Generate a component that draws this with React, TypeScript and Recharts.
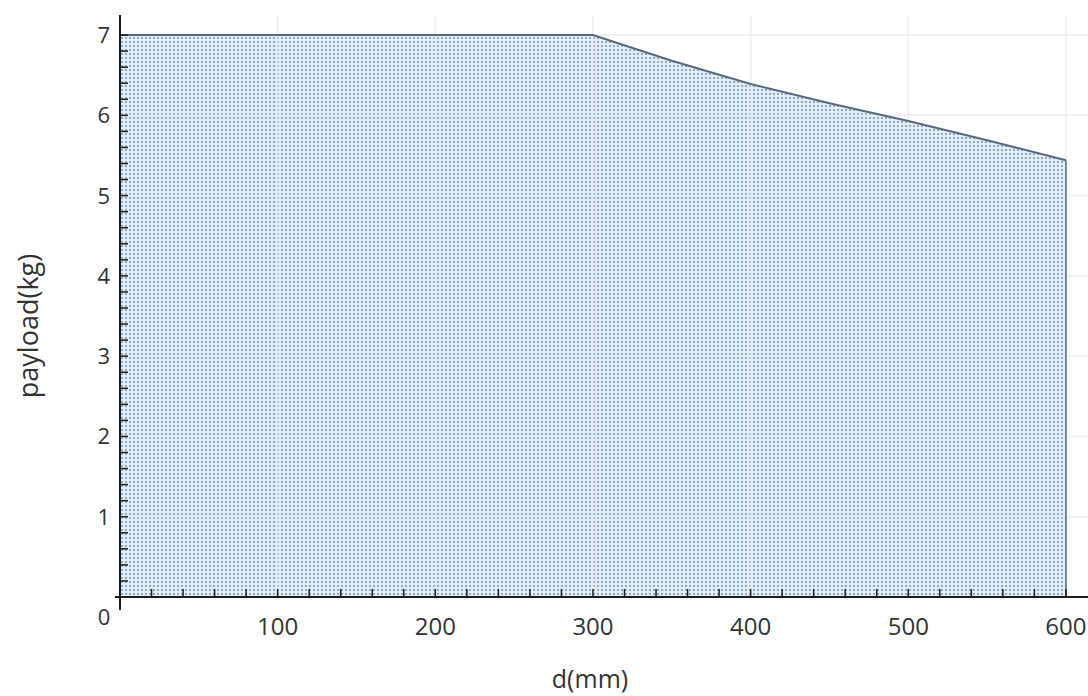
import { ComposedChart, Area, Line, XAxis, YAxis, ReferenceLine, Label } from 'recharts'

const distance = [0, 300, 350, 400, 450, 500, 550, 600]
const payload = [7, 7, 6.68, 6.39, 6.15, 5.93, 5.69, 5.44]

const xMajor = [100, 200, 300, 400, 500, 600]
const yMajor = [1, 2, 3, 4, 5, 6, 7]
const xTicks = Array.from({ length: 31 }, (_, i) => i * 20)
const yTicks = Array.from({ length: 36 }, (_, i) => Number((i * 0.2).toFixed(1)))

const data = distance.map((d, i) => ({ d, payload: payload[i] }))
const last = data[data.length - 1]

const font = '"Open Sans", "Noto Sans", sans-serif'
const axisColor = '#1c1c1c'
const gridColor = 'rgba(228,232,236,0.6)'

function XTick({ x, y, payload: p }: any) {
  const v = p.value
  return (
    <g>
      <line x1={x} y1={y} x2={x} y2={y - 8} stroke={axisColor} strokeWidth={1.5} />
      {v === 0 && <line x1={x - 5} y1={y} x2={x} y2={y} stroke={axisColor} strokeWidth={2} />}
      {xMajor.includes(v) && (
        <text x={x} y={y + 38} textAnchor="middle" fontSize={24} fill="#333" fontFamily={font}>
          {v}
        </text>
      )}
    </g>
  )
}

function YTick({ x, y, payload: p }: any) {
  const v = p.value
  return (
    <g>
      <line x1={x} y1={y} x2={x + 8} y2={y} stroke={axisColor} strokeWidth={1.5} />
      {v === 0 && (
        <>
          <line x1={x} y1={y} x2={x} y2={y + 13} stroke={axisColor} strokeWidth={2} />
          <text x={x - 16} y={y + 28} textAnchor="middle" fontSize={22} fill="#333" fontFamily={font}>
            0
          </text>
        </>
      )}
      {yMajor.includes(v) && (
        <text x={x - 10} y={y + 8} textAnchor="end" fontSize={22} fill="#333" fontFamily={font}>
          {v}
        </text>
      )}
    </g>
  )
}

export default function App() {
  return (
    <div style={{ position: 'absolute', left: 0, top: 0, width: 1088, height: 696, background: '#fff' }}>
      <ComposedChart width={1088} height={696} data={data} margin={{ top: 15, right: 0, left: 0, bottom: 0 }}>
        <defs>
          <pattern id="dots" width={4} height={4} patternUnits="userSpaceOnUse">
            <rect x={0} y={0} width={4} height={4} fill="#e1eef7" />
            <rect x={1} y={1} width={2} height={2} fill="#92aac0" />
          </pattern>
        </defs>
        <XAxis
          dataKey="d"
          type="number"
          domain={[0, 614]}
          ticks={xTicks}
          interval={0}
          height={99}
          tickSize={0}
          tickMargin={0}
          axisLine={{ stroke: axisColor, strokeWidth: 2 }}
          tickLine={false}
          tick={<XTick />}
          allowDataOverflow
        >
          <Label
            content={({ viewBox }: any) => (
              <text
                x={viewBox.x + viewBox.width / 2 - 14}
                y={viewBox.y + 91}
                textAnchor="middle"
                fontSize={25}
                fill="#333"
                fontFamily={font}
              >
                d(mm)
              </text>
            )}
          />
        </XAxis>
        <YAxis
          type="number"
          domain={[0, 7.25]}
          ticks={yTicks}
          interval={0}
          width={120}
          tickSize={0}
          tickMargin={0}
          axisLine={{ stroke: axisColor, strokeWidth: 2 }}
          tickLine={false}
          tick={<YTick />}
          allowDataOverflow
        >
          <Label
            content={({ viewBox }: any) => {
              const cx = 38
              const cy = viewBox.y + viewBox.height / 2 + 20
              return (
                <text
                  x={cx}
                  y={cy}
                  transform={`rotate(-90 ${cx} ${cy})`}
                  textAnchor="middle"
                  fontSize={27}
                  fill="#333"
                  fontFamily={font}
                >
                  payload(kg)
                </text>
              )
            }}
          />
        </YAxis>
        <Area
          type="linear"
          dataKey="payload"
          stroke="none"
          fill="url(#dots)"
          fillOpacity={1}
          isAnimationActive={false}
          dot={false}
          activeDot={false}
        />
        {xMajor.map((v) => (
          <ReferenceLine key={`x${v}`} x={v} stroke={gridColor} strokeWidth={2} />
        ))}
        {yMajor.map((v) => (
          <ReferenceLine key={`y${v}`} y={v} stroke={gridColor} strokeWidth={2} />
        ))}
        <Line
          type="linear"
          dataKey="payload"
          stroke="#56697f"
          strokeWidth={2}
          dot={false}
          activeDot={false}
          isAnimationActive={false}
        />
        <ReferenceLine
          segment={[
            { x: last.d, y: 0 },
            { x: last.d, y: last.payload },
          ]}
          stroke="#56697f"
          strokeWidth={1.5}
        />
      </ComposedChart>
    </div>
  )
}
